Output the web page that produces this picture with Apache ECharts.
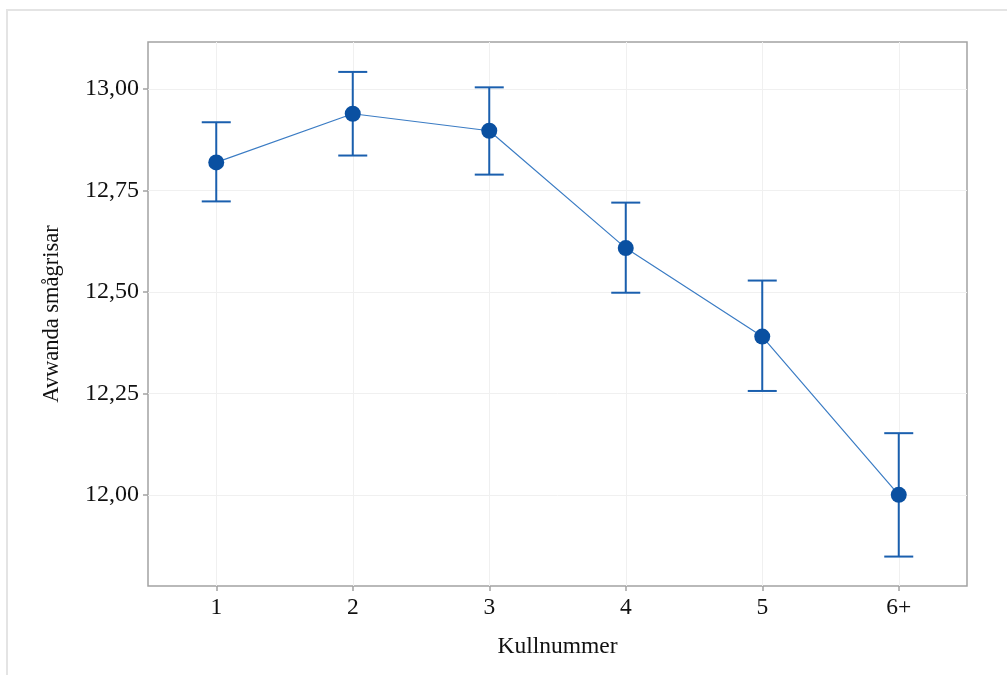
<!DOCTYPE html>
<html>
<head>
<meta charset="utf-8">
<script src="https://cdn.jsdelivr.net/npm/echarts@6/dist/echarts.min.js"></script>
<style>
html,body{margin:0;padding:0;background:#fff;overflow:hidden;}
#frame{position:absolute;left:6px;top:9px;width:1100px;height:800px;border-left:2px solid #e4e4e4;border-top:2px solid #e4e4e4;}
#chart{position:absolute;left:0;top:0;width:1007px;height:675px;}
</style>
</head>
<body>
<div id="frame"></div>
<div id="chart"></div>
<script>
const categories = ['1', '2', '3', '4', '5', '6+'];
const means = [12.819, 12.939, 12.897, 12.608, 12.390, 12.000];
const lower = [12.723, 12.836, 12.789, 12.498, 12.256, 11.848];
const upper = [12.918, 13.042, 13.004, 12.720, 12.528, 12.152];
const yTicks = [12.00, 12.25, 12.50, 12.75, 13.00];
const xTicks = [1, 2, 3, 4, 5, 6];
const yName = 'Avwanda smågrisar';
const xName = 'Kullnummer';

const font = '"Liberation Serif", "Times New Roman", serif';
const chart = echarts.init(document.getElementById('chart'));

const lineData = means.map((v, i) => [i + 1, v]);
const errData = means.map((v, i) => [i + 1, lower[i], upper[i]]);

chart.setOption({
  animation: false,
  grid: {
    left: 148, right: 40, top: 42, bottom: 89,
    show: true, borderColor: '#a3a3a3', borderWidth: 1.5, backgroundColor: '#fff'
  },
  xAxis: {
    type: 'value', min: 0.5, max: 6.5,
    name: xName, nameLocation: 'middle', nameGap: 49,
    nameTextStyle: { fontFamily: font, fontSize: 23.5, color: '#111' },
    axisLine: { show: false },
    axisTick: { show: true, length: 5, customValues: xTicks, lineStyle: { color: '#a3a3a3', width: 1.5 } },
    axisLabel: { customValues: xTicks, margin: 10, fontFamily: font, fontSize: 23.5, color: '#111',
      formatter: v => categories[Math.round(v) - 1] },
    splitLine: { show: true, customValues: xTicks, lineStyle: { color: '#f0f0f0', width: 1 } }
  },
  yAxis: {
    type: 'value', min: 11.7755, max: 13.1157,
    name: yName, nameLocation: 'middle', nameGap: 84, nameRotate: 90,
    nameTextStyle: { fontFamily: font, fontSize: 22.5, color: '#111' },
    axisLine: { show: false },
    axisTick: { show: true, length: 5, customValues: yTicks, lineStyle: { color: '#a3a3a3', width: 1.5 } },
    axisLabel: { customValues: yTicks, margin: 9, fontFamily: font, fontSize: 24, color: '#111',
      formatter: v => v.toFixed(2).replace('.', ',') },
    splitLine: { show: true, customValues: yTicks, lineStyle: { color: '#f0f0f0', width: 1 } }
  },
  series: [
    {
      type: 'custom',
      data: errData,
      z: 3,
      renderItem: function (params, api) {
        const x = api.value(0);
        const lo = api.coord([x, api.value(1)]);
        const hi = api.coord([x, api.value(2)]);
        const hw = 14.5;
        const style = { stroke: '#1a5fae', lineWidth: 2 };
        return {
          type: 'group',
          children: [
            { type: 'line', shape: { x1: lo[0], y1: lo[1], x2: hi[0], y2: hi[1] }, style: style },
            { type: 'line', shape: { x1: lo[0] - hw, y1: lo[1], x2: lo[0] + hw, y2: lo[1] }, style: style },
            { type: 'line', shape: { x1: hi[0] - hw, y1: hi[1], x2: hi[0] + hw, y2: hi[1] }, style: style }
          ]
        };
      }
    },
    {
      type: 'line',
      data: lineData,
      z: 4,
      symbol: 'circle',
      symbolSize: 16,
      lineStyle: { color: '#3b7cc4', width: 1.2 },
      itemStyle: { color: '#0a50a1' }
    }
  ]
});
</script>
</body>
</html>
